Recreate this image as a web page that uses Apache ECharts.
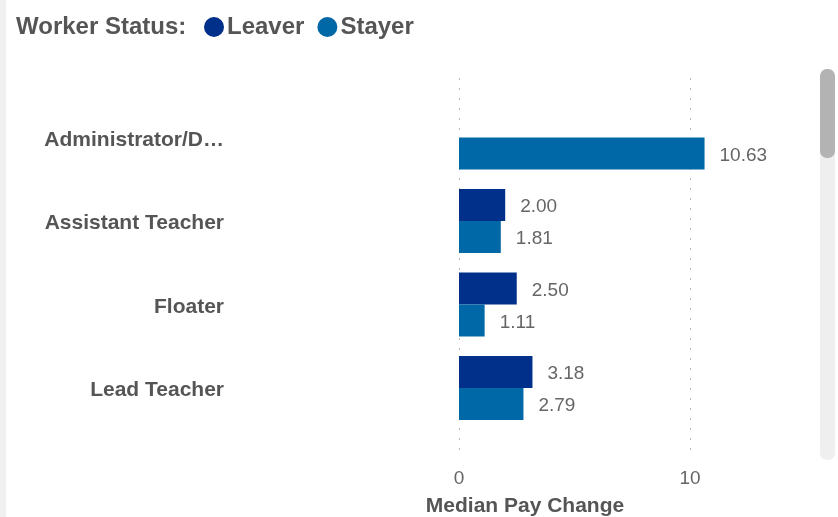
<!DOCTYPE html>
<html>
<head>
<meta charset="utf-8">
<script src="https://cdn.jsdelivr.net/npm/echarts@6/dist/echarts.min.js"></script>
<style>
html,body{margin:0;padding:0;background:#fff;}
#c{width:838px;height:517px;}
</style>
</head>
<body>
<div id="c"></div>
<script>
const categories = ['Administrator/Director', 'Assistant Teacher', 'Floater', 'Lead Teacher'];
const leaver = [null, 2.00, 2.50, 3.18];
const stayer = [10.63, 1.81, 1.11, 2.79];
const seriesNames = ['Leaver', 'Stayer'];
const xTicks = [0, 10];

const chart = echarts.init(document.getElementById('c'), null, {renderer: 'canvas'});
const FONT = 'Liberation Sans, Arial, sans-serif';
const labelCfg = {
  show: true, position: 'right', distance: 15, offset: [0, 2],
  fontFamily: FONT, fontSize: 19, color: '#666',
  formatter: p => (p.value == null ? '' : Number(p.value).toFixed(2))
};
chart.setOption({
  animation: false,
  title: {
    text: 'Worker Status:', left: 16, top: 15, padding: 0,
    textStyle: {fontFamily: FONT, fontSize: 24, fontWeight: 'bold', color: '#555', lineHeight: 24}
  },
  legend: {
    data: seriesNames, left: 204, top: 15, padding: 0, icon: 'circle',
    itemWidth: 20, itemHeight: 20, itemGap: 13,
    textStyle: {fontFamily: FONT, fontSize: 24, fontWeight: 'bold', color: '#555', padding: [0, 0, 0, -2]}
  },
  grid: [
    {left: 459, width: 462, top: 95.75, height: 334, outerBoundsMode: 'none'},
    {left: 459, width: 462, top: 78, height: 377, outerBoundsMode: 'none'}
  ],
  xAxis: [
    {
      gridIndex: 0, type: 'value', min: xTicks[0], max: 20, interval: xTicks[1] - xTicks[0],
      axisLine: {show: false}, axisTick: {show: false}, splitLine: {show: false},
      axisLabel: {margin: 40, fontFamily: FONT, fontSize: 19, color: '#666',
        formatter: v => (xTicks.indexOf(v) >= 0 ? String(v) : '')}
    },
    {
      gridIndex: 1, type: 'value', min: xTicks[0], max: 20, interval: xTicks[1] - xTicks[0],
      axisLine: {show: false}, axisTick: {show: false}, axisLabel: {show: false},
      splitLine: {show: true, lineStyle: {color: '#b8b8b8', width: 1, type: [2, 8]}}
    }
  ],
  yAxis: [
    {
      gridIndex: 0, type: 'category', data: categories, inverse: true,
      axisLine: {show: false}, axisTick: {show: false},
      axisLabel: {margin: 235, fontFamily: FONT, fontSize: 21, fontWeight: 'bold', color: '#555',
        width: 186, overflow: 'truncate', ellipsis: '…',
        formatter: v => '{a|' + v + '}',
        rich: {a: {fontFamily: FONT, fontSize: 21, fontWeight: 'bold', color: '#555', padding: [5, 0, 0, 0]}}}
    },
    {gridIndex: 1, type: 'category', data: categories, show: false}
  ],
  series: [
    {name: seriesNames[0], type: 'bar', data: leaver, xAxisIndex: 0, yAxisIndex: 0,
      barWidth: 32, barGap: '0%', itemStyle: {color: '#00308A'}, label: labelCfg},
    {name: seriesNames[1], type: 'bar', data: stayer, xAxisIndex: 0, yAxisIndex: 0,
      barWidth: 32, barGap: '0%', itemStyle: {color: '#0068A6'}, label: labelCfg}
  ],
  graphic: [
    {type: 'rect', shape: {x: 0, y: 0, width: 6, height: 517}, style: {fill: '#f0f0f0'}, silent: true},
    {type: 'rect', shape: {x: 820, y: 69, width: 15, height: 391, r: 7}, style: {fill: '#efefef'}, silent: true},
    {type: 'rect', shape: {x: 820, y: 69, width: 15, height: 89, r: 7}, style: {fill: '#b3b3b3'}, silent: true},
    {type: 'text', style: {text: 'Median Pay Change', x: 525, y: 506, align: 'center', verticalAlign: 'middle',
      fontFamily: FONT, fontSize: 21, fontWeight: 'bold', fill: '#555'}}
  ]
});
</script>
</body>
</html>
